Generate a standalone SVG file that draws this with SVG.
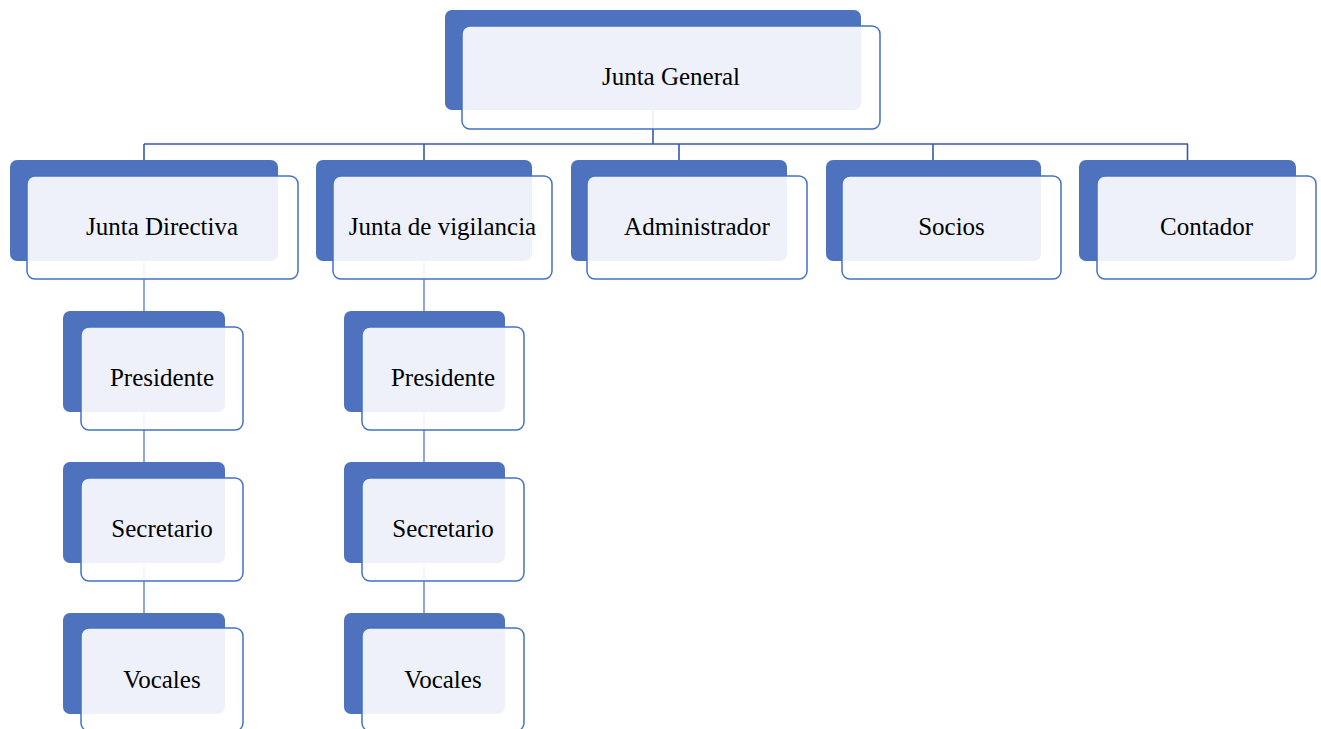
<svg xmlns="http://www.w3.org/2000/svg" width="1321" height="729" viewBox="0 0 1321 729">
<style>
.back{fill:#4F72BE;}
.front{fill:#FFFFFF;fill-opacity:0.9;stroke:#4472C4;stroke-width:1.5;}
.lbl{font-family:"Liberation Serif","Times New Roman",serif;font-size:25px;fill:#000;text-anchor:middle;}
.bus{stroke:#3559AA;stroke-width:1.6;fill:none;}
.sub{stroke:#7690D0;stroke-width:1.6;fill:none;}
</style>
<rect x="0" y="0" width="1321" height="729" fill="#FFFFFF"/>
<g id="connectors">
<path class="bus" d="M653 110V144M144 144H1188M144 144V160M424 144V160M679 144V160M933 144V160M1187.5 144V160"/>
<path class="sub" d="M144 261V311M144 412V462M144 563V613M424 261V311M424 412V462M424 563V613"/>
</g>
<g id="junta-general">
<rect class="back" x="445" y="10" width="416" height="100" rx="7"/>
<rect class="front" x="462" y="26" width="418" height="103" rx="8"/>
<text class="lbl" x="671" y="85">Junta General</text>
</g>
<g id="junta-directiva">
<rect class="back" x="10" y="160" width="268" height="101" rx="7"/>
<rect class="front" x="27" y="176" width="271" height="103" rx="8"/>
<text class="lbl" x="162" y="234.5">Junta Directiva</text>
</g>
<g id="junta-vigilancia">
<rect class="back" x="316" y="160" width="216" height="101" rx="7"/>
<rect class="front" x="333" y="176" width="219" height="103" rx="8"/>
<text class="lbl" x="442.5" y="234.5">Junta de vigilancia</text>
</g>
<g id="administrador">
<rect class="back" x="571" y="160" width="216" height="101" rx="7"/>
<rect class="front" x="587" y="176" width="220" height="103" rx="8"/>
<text class="lbl" x="697" y="234.5">Administrador</text>
</g>
<g id="socios">
<rect class="back" x="826" y="160" width="215" height="101" rx="7"/>
<rect class="front" x="842" y="176" width="219" height="103" rx="8"/>
<text class="lbl" x="951.5" y="234.5">Socios</text>
</g>
<g id="contador">
<rect class="back" x="1079" y="160" width="217" height="101" rx="7"/>
<rect class="front" x="1097" y="176" width="219" height="103" rx="8"/>
<text class="lbl" x="1206.5" y="234.5">Contador</text>
</g>
<g id="jd-presidente">
<rect class="back" x="63" y="311" width="162" height="101" rx="7"/>
<rect class="front" x="81" y="327" width="162" height="103" rx="8"/>
<text class="lbl" x="162" y="386">Presidente</text>
</g>
<g id="jd-secretario">
<rect class="back" x="63" y="462" width="162" height="101" rx="7"/>
<rect class="front" x="81" y="478" width="162" height="103" rx="8"/>
<text class="lbl" x="162" y="537">Secretario</text>
</g>
<g id="jd-vocales">
<rect class="back" x="63" y="613" width="162" height="101" rx="7"/>
<rect class="front" x="81" y="628" width="162" height="103" rx="8"/>
<text class="lbl" x="162" y="687.5">Vocales</text>
</g>
<g id="jv-presidente">
<rect class="back" x="344" y="311" width="161" height="101" rx="7"/>
<rect class="front" x="362" y="327" width="162" height="103" rx="8"/>
<text class="lbl" x="443" y="386">Presidente</text>
</g>
<g id="jv-secretario">
<rect class="back" x="344" y="462" width="161" height="101" rx="7"/>
<rect class="front" x="362" y="478" width="162" height="103" rx="8"/>
<text class="lbl" x="443" y="537">Secretario</text>
</g>
<g id="jv-vocales">
<rect class="back" x="344" y="613" width="161" height="101" rx="7"/>
<rect class="front" x="362" y="628" width="162" height="103" rx="8"/>
<text class="lbl" x="443" y="687.5">Vocales</text>
</g>
</svg>
